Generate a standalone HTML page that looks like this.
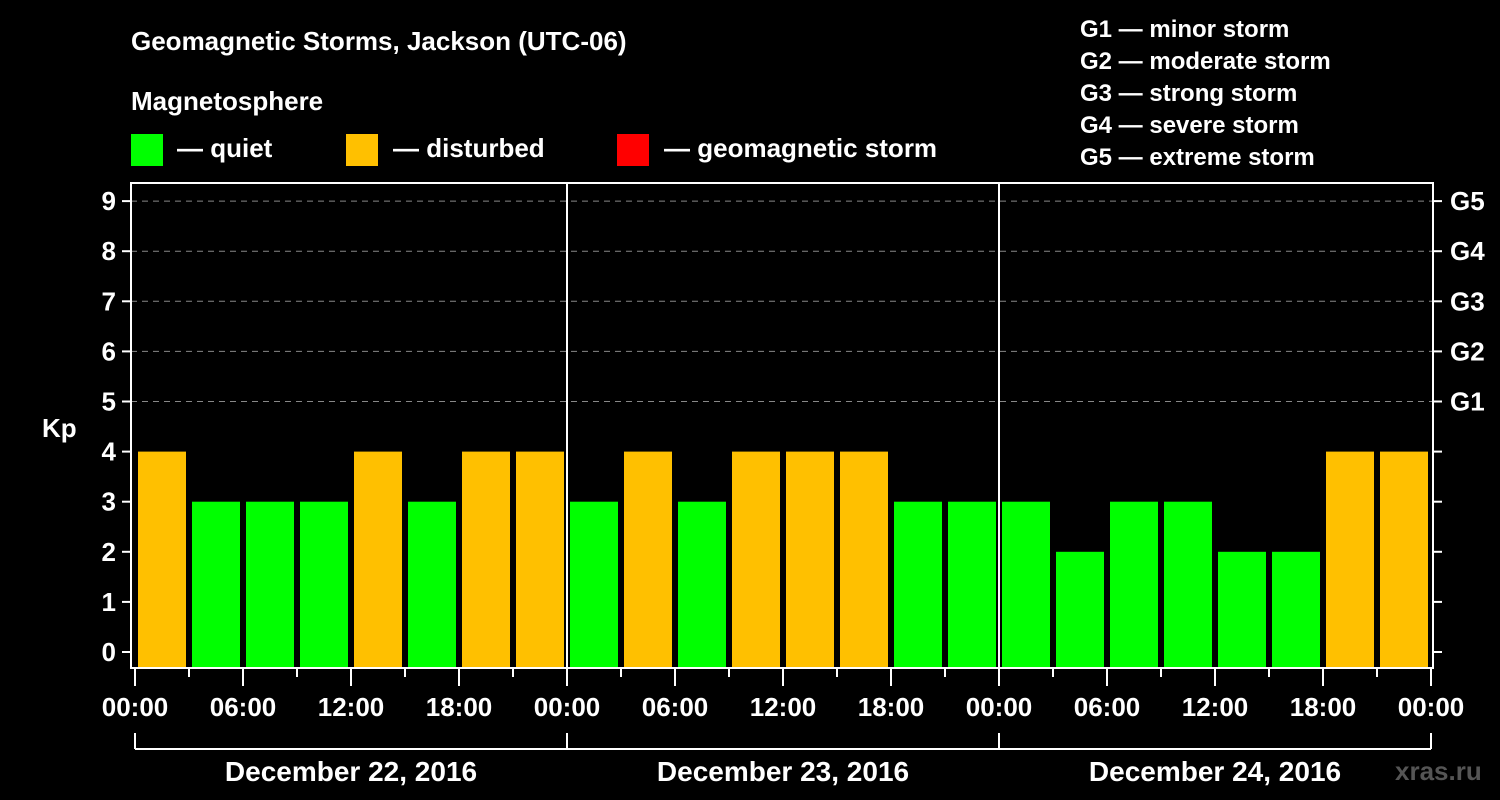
<!DOCTYPE html>
<html><head><meta charset="utf-8"><style>
body{margin:0;background:#000;}
svg{display:block;font-family:"Liberation Sans",sans-serif;font-weight:bold;}
</style></head><body>
<svg id="chart" width="1500" height="800" viewBox="0 0 1500 800">
<rect width="1500" height="800" fill="#000"/>
<g fill="#fff" font-size="26">
<text x="131" y="50">Geomagnetic Storms, Jackson (UTC-06)</text>
<text x="131" y="110">Magnetosphere</text>
</g>
<g font-size="26" fill="#fff">
<rect x="131" y="134" width="32" height="32" fill="#00ff00"/>
<text x="177" y="157">— quiet</text>
<rect x="346" y="134" width="32" height="32" fill="#ffc000"/>
<text x="393" y="157">— disturbed</text>
<rect x="617" y="134" width="32" height="32" fill="#ff0000"/>
<text x="664" y="157">— geomagnetic storm</text>
</g>
<g font-size="24" fill="#fff">
<text x="1080" y="37">G1 — minor storm</text>
<text x="1080" y="69">G2 — moderate storm</text>
<text x="1080" y="101">G3 — strong storm</text>
<text x="1080" y="133">G4 — severe storm</text>
<text x="1080" y="165">G5 — extreme storm</text>
</g>
<g id="plot"></g>
<text x="1395" y="780" font-size="26" fill="#555">xras.ru</text>
</svg>
<script>
const dates=["December 22, 2016","December 23, 2016","December 24, 2016"];
const kpValues=[4,3,3,3,4,3,4,4, 3,4,3,4,4,4,3,3, 3,2,3,3,2,2,4,4];
const yTicks=[0,1,2,3,4,5,6,7,8,9];
const gLabels=["G1","G2","G3","G4","G5"];
const xTickLabels=["00:00","06:00","12:00","18:00"];
const NS="http://www.w3.org/2000/svg";
const g=document.getElementById('plot');
const X0=135,DAY=432,L=131,R=1433,T=183,B=668;
const x=h=>X0+h*DAY/24;
const y=v=>652-v*50.1;
function mk(t,a,p){const e=document.createElementNS(NS,t);for(const k in a)e.setAttribute(k,a[k]);(p||g).appendChild(e);return e;}
// grid
for(let v=5;v<=9;v++){
 const l=mk('line',{x1:L,x2:R,y1:y(v),y2:y(v),stroke:'#888','stroke-dasharray':'6,5','stroke-width':1});
 
 
}
// bars
kpValues.forEach((v,i)=>{
 const r=mk('rect',{x:x(i*3)+3,y:y(v),width:DAY/8-6,height:B-y(v),fill:v>=5?'#ff0000':(v>=4?'#ffc000':'#00ff00')});
 
 
});
// day separators
for(let d=1;d<dates.length;d++){
 const l=mk('line',{x1:x(d*24),x2:x(d*24),y1:T,y2:B,stroke:'#fff','stroke-width':2});
 
 
}
// frame
const fr=mk('rect',{x:L,y:T,width:R-L,height:B-T,fill:'none',stroke:'#fff','stroke-width':2});


// y ticks
yTicks.forEach(v=>{
 mk('line',{x1:122,x2:L,y1:y(v),y2:y(v),stroke:'#fff','stroke-width':2});
 mk('line',{x1:R,x2:1442,y1:y(v),y2:y(v),stroke:'#fff','stroke-width':2});
 const t=mk('text',{x:116,y:y(v)+9,'text-anchor':'end','font-size':26,fill:'#fff'});
 t.textContent=v;
 
 
});
gLabels.forEach((s,i)=>{
 const t=mk('text',{x:1450,y:y(5+i)+9,'font-size':26,fill:'#fff'});
 t.textContent=s;
 
 
});
const yt=mk('text',{x:42,y:437,'font-size':26,fill:'#fff'});yt.textContent='Kp';


// x ticks
for(let h=0;h<=72;h+=3){
 const major=h%6===0;
 mk('line',{x1:x(h),x2:x(h),y1:B,y2:major?686:677,stroke:'#fff','stroke-width':2});
 if(major){
  const t=mk('text',{x:x(h),y:716,'text-anchor':'middle','font-size':26,fill:'#fff'});
  t.textContent=xTickLabels[(h%24)/6];
  
  
 }
}
// date brackets
mk('line',{x1:x(0),x2:x(72),y1:749,y2:749,stroke:'#fff','stroke-width':2});
for(let d=0;d<=dates.length;d++) mk('line',{x1:x(d*24),x2:x(d*24),y1:733,y2:749,stroke:'#fff','stroke-width':2});
dates.forEach((s,d)=>{
 const t=mk('text',{x:x(d*24+12),y:781,'text-anchor':'middle','font-size':28,fill:'#fff'});
 t.textContent=s;
 
 
});
</script>
</body></html>
